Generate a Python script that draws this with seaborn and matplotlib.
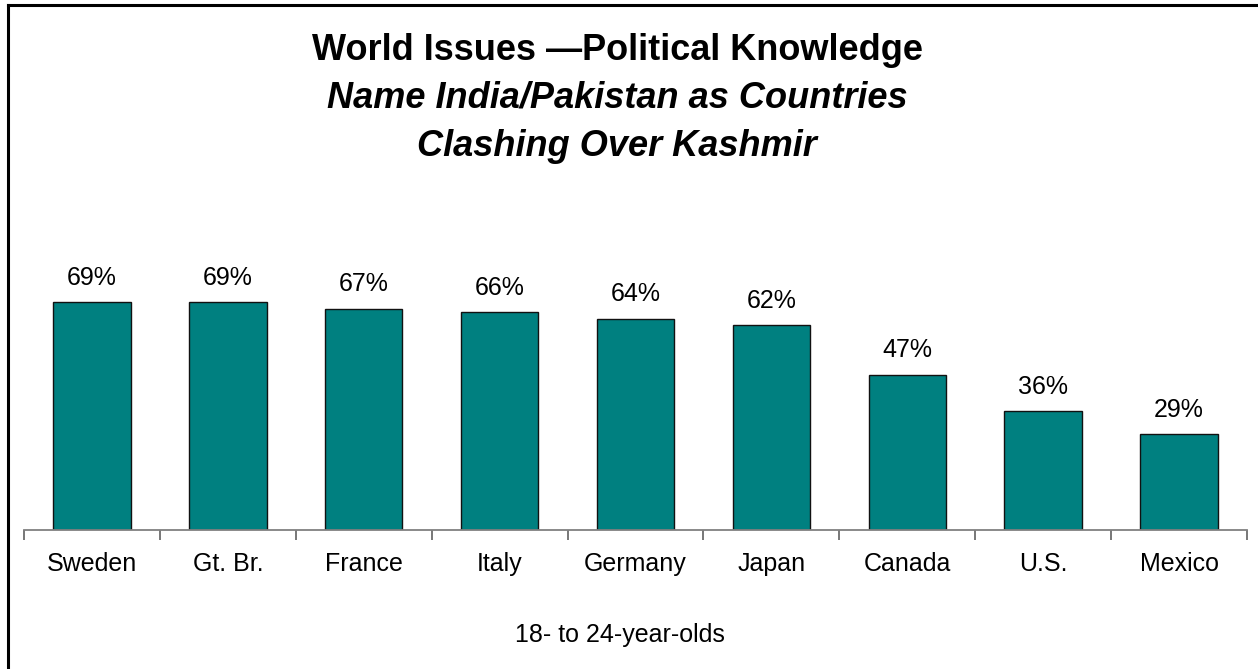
import matplotlib
matplotlib.use("Agg")
import matplotlib.pyplot as plt
from matplotlib.lines import Line2D
from matplotlib.ticker import FixedLocator, NullFormatter
import seaborn as sns
import pandas as pd
import numpy as np

# Share of 18- to 24-year-olds naming India/Pakistan as the countries clashing over Kashmir
countries = ["Sweden", "Gt. Br.", "France", "Italy", "Germany", "Japan", "Canada", "U.S.", "Mexico"]
percent = [69, 69, 67, 66, 64, 62, 47, 36, 29]

title_lines = [
    ("World Issues \u2014Political Knowledge", "normal"),
    ("Name India/Pakistan as Countries", "italic"),
    ("Clashing Over Kashmir", "italic"),
]
subtitle = "18- to 24-year-olds"

sns.set_style("white", {"text.color": "black", "xtick.color": "black",
                        "xtick.bottom": True})
plt.rcParams["font.family"] = ["Liberation Sans", "DejaVu Sans"]

W, H = 1258, 669
fig = plt.figure(figsize=(W / 100, H / 100), dpi=100)
fig.patch.set_facecolor("white")

def fx(px):
    return px / W

def fy(py):
    return 1 - py / H

# plot area in pixel terms
left, right, base, ymax, scale = 24, 1247, 530, 80, 3.3
top = base - ymax * scale
ax = fig.add_axes([fx(left), fy(base), fx(right - left), (base - top) / H])

df = pd.DataFrame({"country": countries, "pct": percent})
sns.barplot(data=df, x="country", y="pct", color="#008080", width=0.57,
            edgecolor="#111111", linewidth=1.0, saturation=1, ax=ax)

ax.set_xlim(-0.5, len(countries) - 0.5)
ax.set_ylim(0, ymax)
ax.set_xlabel("")
ax.set_ylabel("")
ax.set_yticks([])
for side in ["top", "right", "left"]:
    ax.spines[side].set_visible(False)
ax.spines["bottom"].set_color("#808080")
ax.spines["bottom"].set_linewidth(1.3)

# category labels without marks; separator ticks between categories
ax.tick_params(axis="x", which="major", bottom=True, length=0, pad=16,
               labelsize=18, labelcolor="black")
ax.xaxis.set_minor_locator(FixedLocator(np.arange(-0.5, len(countries), 1.0)))
ax.xaxis.set_minor_formatter(NullFormatter())
ax.tick_params(axis="x", which="minor", bottom=True, length=7, width=1.2,
               color="#606060", direction="out")

ax.bar_label(ax.containers[0], labels=[f"{v}%" for v in percent], padding=9,
             fontsize=18, color="black")

# titles
for (txt, style), yb in zip(title_lines, [60, 107, 156]):
    fig.text(fx(617), fy(yb), txt, ha="center", va="baseline", fontsize=26,
             fontweight="bold", fontstyle=style, color="black")

fig.text(fx(620), fy(642), subtitle, ha="center", va="baseline", fontsize=18,
         color="black")

# frame around the chart
fig.add_artist(Line2D([fx(8), fx(1262)], [fy(5), fy(5)], transform=fig.transFigure,
                      color="black", linewidth=2.2, solid_capstyle="projecting"))
fig.add_artist(Line2D([fx(8), fx(8)], [fy(5), fy(675)], transform=fig.transFigure,
                      color="black", linewidth=2.2, solid_capstyle="projecting"))

fig.savefig("out.png", dpi=100, facecolor="white")
